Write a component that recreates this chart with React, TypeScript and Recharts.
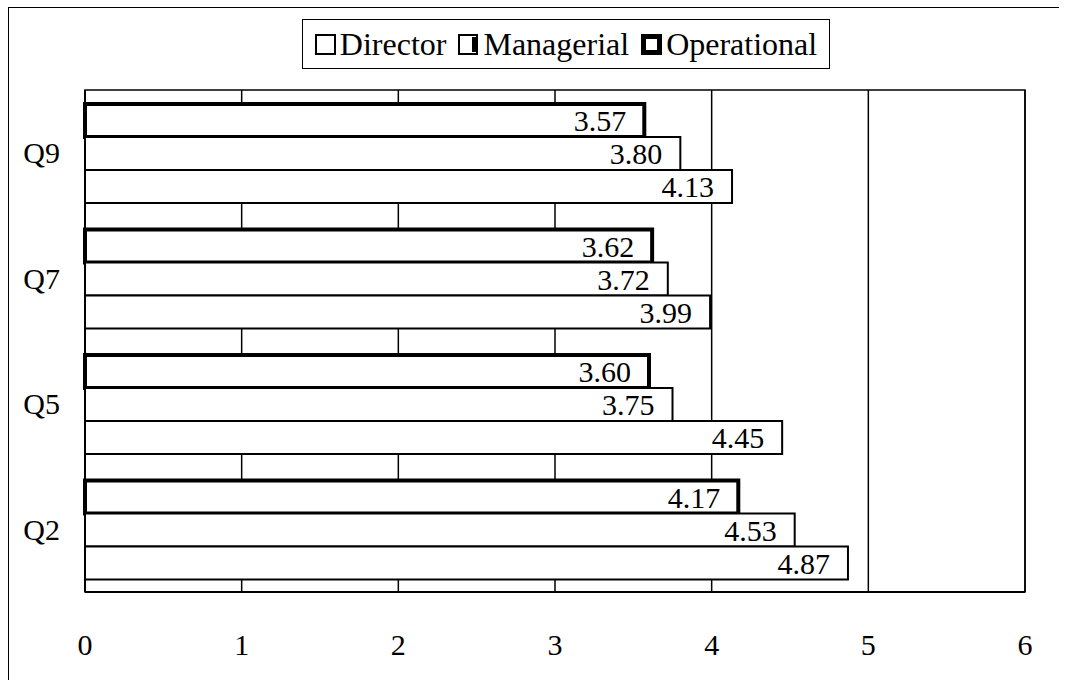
import React from "react";
import {
  BarChart,
  Bar,
  XAxis,
  YAxis,
  CartesianGrid,
  Legend,
  LabelList,
  ReferenceArea,
} from "recharts";

const questions = ["Q9", "Q7", "Q5", "Q2"];
const director = [4.13, 3.99, 4.45, 4.87];
const managerial = [3.8, 3.72, 3.75, 4.53];
const operational = [3.57, 3.62, 3.6, 4.17];
const xTicks = [0, 1, 2, 3, 4, 5, 6];

const data = questions.map((q, i) => ({
  q,
  Director: director[i],
  Managerial: managerial[i],
  Operational: operational[i],
}));

const FONT = "'Liberation Serif', 'Times New Roman', serif";

const legendItems = [
  { name: "Director", kind: "thin" },
  { name: "Managerial", kind: "shadow" },
  { name: "Operational", kind: "thick" },
];

const LegendIcon = ({ kind }: { kind: string }) => (
  <svg width={21} height={21} style={{ display: "block" }}>
    {kind === "thin" && (
      <rect x={1} y={1} width={19} height={19} fill="#fff" stroke="#000" strokeWidth={2} />
    )}
    {kind === "shadow" && (
      <>
        <rect x={1} y={1} width={18} height={19} fill="#fff" stroke="#000" strokeWidth={2} />
        <rect x={14} y={3} width={4} height={15} fill="#000" />
      </>
    )}
    {kind === "thick" && (
      <rect x={2.5} y={2.5} width={16} height={16} fill="#fff" stroke="#000" strokeWidth={5} />
    )}
  </svg>
);

const CustomLegend = () => (
  <div
    style={{
      border: "1.5px solid #000",
      background: "#fff",
      height: 50,
      boxSizing: "border-box",
      display: "flex",
      alignItems: "center",
      justifyContent: "center",
      gap: 12,
      fontFamily: FONT,
      fontSize: 32,
      color: "#000",
    }}
  >
    {legendItems.map((it) => (
      <div key={it.name} style={{ display: "flex", alignItems: "center", gap: 4 }}>
        <LegendIcon kind={it.kind} />
        <span style={{ lineHeight: "32px" }}>{it.name}</span>
      </div>
    ))}
  </div>
);

const labelStyle = { fontFamily: FONT, fontSize: 30, fill: "#000" };

export default function App() {
  return (
    <div
      style={{
        position: "absolute",
        left: 8,
        top: 7,
        width: 1050,
        height: 673,
        borderLeft: "1.5px solid #000",
        borderTop: "1.5px solid #000",
        background: "#fff",
      }}
    >
      <BarChart
        width={1040}
        height={670}
        data={data}
        layout="vertical"
        margin={{ top: 82, right: 24, bottom: 0, left: 0 }}
        barCategoryGap={14}
        barGap={0}
      >
        <CartesianGrid horizontal={false} stroke="#000" strokeWidth={1.5} />
        <ReferenceArea x1={0} x2={6} fill="none" stroke="#000" strokeWidth={1.5} ifOverflow="visible" />
        <XAxis
          type="number"
          domain={[0, 6]}
          ticks={xTicks}
          interval={0}
          height={86}
          tickLine={false}
          tickSize={0}
          tickMargin={42}
          axisLine={{ stroke: "#000", strokeWidth: 2 }}
          tick={{ fontFamily: FONT, fontSize: 30, fill: "#000" }}
        />
        <YAxis
          type="category"
          dataKey="q"
          width={76}
          tickLine={false}
          tickSize={0}
          tickMargin={25}
          axisLine={{ stroke: "#000", strokeWidth: 2 }}
          tick={{ fontFamily: FONT, fontSize: 30, fill: "#000" }}
        />
        <Legend
          layout="horizontal"
          verticalAlign="middle"
          align="center"
          content={<CustomLegend />}
          wrapperStyle={{ top: 11, left: 293, width: 528 }}
        />
        <Bar dataKey="Operational" fill="#fff" stroke="#000" strokeWidth={4} isAnimationActive={false}>
          <LabelList
            dataKey="Operational"
            position="insideRight"
            offset={18}
            formatter={(v: number) => v.toFixed(2)}
            style={labelStyle}
          />
        </Bar>
        <Bar dataKey="Managerial" fill="#fff" stroke="#000" strokeWidth={2} isAnimationActive={false}>
          <LabelList
            dataKey="Managerial"
            position="insideRight"
            offset={18}
            formatter={(v: number) => v.toFixed(2)}
            style={labelStyle}
          />
        </Bar>
        <Bar dataKey="Director" fill="#fff" stroke="#000" strokeWidth={2} isAnimationActive={false}>
          <LabelList
            dataKey="Director"
            position="insideRight"
            offset={18}
            formatter={(v: number) => v.toFixed(2)}
            style={labelStyle}
          />
        </Bar>
      </BarChart>
    </div>
  );
}
